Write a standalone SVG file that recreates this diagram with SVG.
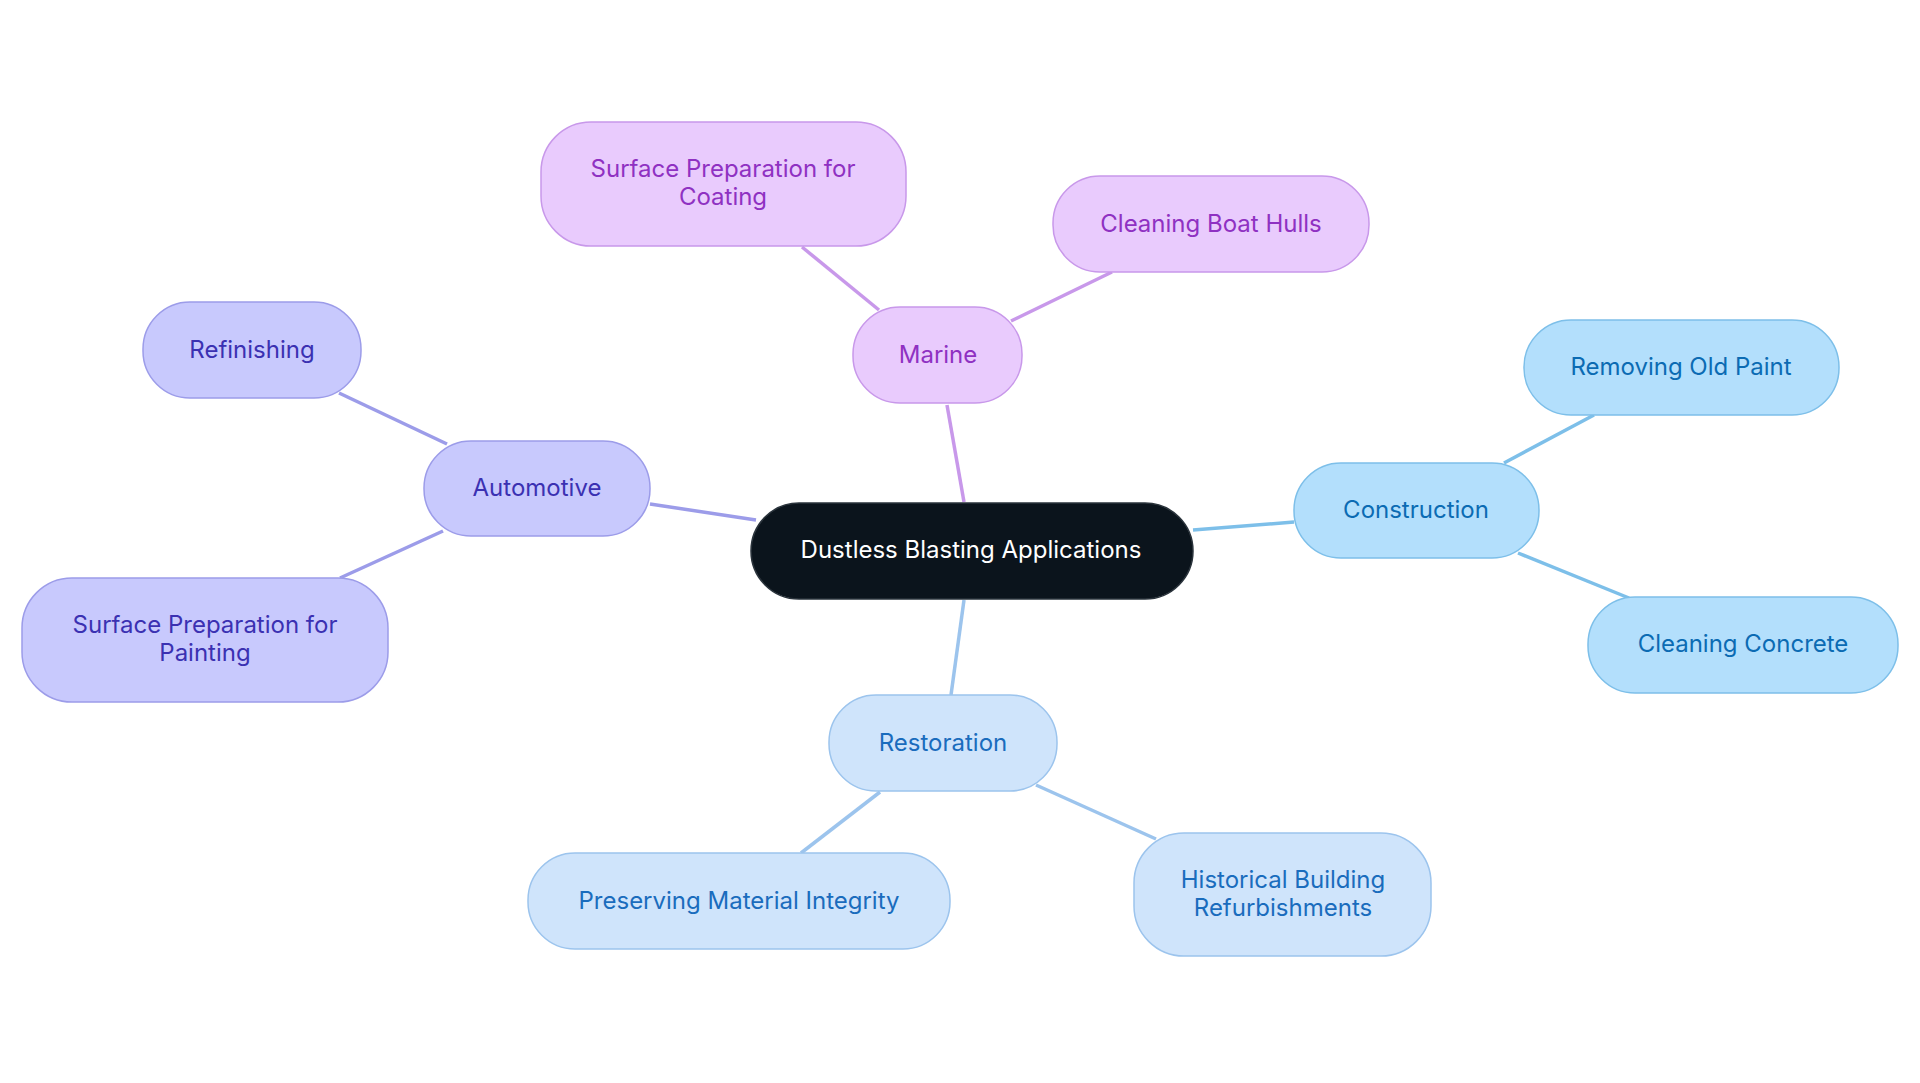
<svg xmlns="http://www.w3.org/2000/svg" width="1920" height="1083" viewBox="0 0 1920 1083">
<style>
text{font-family:Inter,"Noto Sans",sans-serif;font-size:24px;text-anchor:middle;dominant-baseline:central}
rect{stroke-width:1.5}
.a rect{fill:#c8c9fd;stroke:#9c9ce9}.a text{fill:#3b31b2}
.m rect{fill:#e9cbfd;stroke:#c898ea}.m text{fill:#8f31c2}
.c rect{fill:#b3dffc;stroke:#7dbfe9}.c text{fill:#0b6bb3}
.r rect{fill:#cfe4fb;stroke:#9cc4ed}.r text{fill:#1a6cbd}
#conn line{stroke-width:3.5}
</style>
<rect width="1920" height="1083" fill="#fff"/>
<g id="conn">
<line x1="756" y1="520" x2="650" y2="504" stroke="#9c9ce9"/>
<line x1="447" y1="444" x2="339" y2="393" stroke="#9c9ce9"/>
<line x1="443" y1="531" x2="340" y2="578" stroke="#9c9ce9"/>
<line x1="964" y1="502" x2="947" y2="405" stroke="#c898ea"/>
<line x1="879" y1="310" x2="802" y2="247" stroke="#c898ea"/>
<line x1="1011" y1="321" x2="1112" y2="272" stroke="#c898ea"/>
<line x1="1193" y1="530" x2="1294" y2="522" stroke="#7dbfe9"/>
<line x1="1504" y1="463" x2="1594" y2="415" stroke="#7dbfe9"/>
<line x1="1518" y1="553" x2="1629" y2="598" stroke="#7dbfe9"/>
<line x1="964" y1="600" x2="951" y2="695" stroke="#9cc4ed"/>
<line x1="880" y1="792" x2="801" y2="853" stroke="#9cc4ed"/>
<line x1="1036" y1="785" x2="1156" y2="839" stroke="#9cc4ed"/>
</g>
<g id="center"><rect x="751" y="503" width="442" height="96" rx="48" fill="#0b141c" stroke="#2a333b"/><text x="971" y="549" fill="#fff">Dustless Blasting Applications</text></g>
<g id="automotive" class="a"><rect x="424" y="441" width="226" height="95" rx="47"/><text x="537" y="487">Automotive</text></g>
<g id="refinishing" class="a"><rect x="143" y="302" width="218" height="96" rx="47"/><text x="252" y="349">Refinishing</text></g>
<g id="surfpaint" class="a"><rect x="22" y="578" width="366" height="124" rx="50"/><text x="205" y="624">Surface Preparation for</text><text x="205" y="652">Painting</text></g>
<g id="marine" class="m"><rect x="853" y="307" width="169" height="96" rx="47"/><text x="938" y="354">Marine</text></g>
<g id="surfcoat" class="m"><rect x="541" y="122" width="365" height="124" rx="50"/><text x="723" y="168">Surface Preparation for</text><text x="723" y="196">Coating</text></g>
<g id="hulls" class="m"><rect x="1053" y="176" width="316" height="96" rx="47"/><text x="1211" y="223">Cleaning Boat Hulls</text></g>
<g id="construction" class="c"><rect x="1294" y="463" width="245" height="95" rx="47"/><text x="1416" y="509">Construction</text></g>
<g id="removing" class="c"><rect x="1524" y="320" width="315" height="95" rx="47"/><text x="1681" y="366">Removing Old Paint</text></g>
<g id="concrete" class="c"><rect x="1588" y="597" width="310" height="96" rx="47"/><text x="1743" y="643">Cleaning Concrete</text></g>
<g id="restoration" class="r"><rect x="829" y="695" width="228" height="96" rx="47"/><text x="943" y="742">Restoration</text></g>
<g id="preserving" class="r"><rect x="528" y="853" width="422" height="96" rx="47"/><text x="739" y="900">Preserving Material Integrity</text></g>
<g id="historical" class="r"><rect x="1134" y="833" width="297" height="123" rx="50"/><text x="1283" y="879">Historical Building</text><text x="1283" y="907">Refurbishments</text></g>
</svg>
